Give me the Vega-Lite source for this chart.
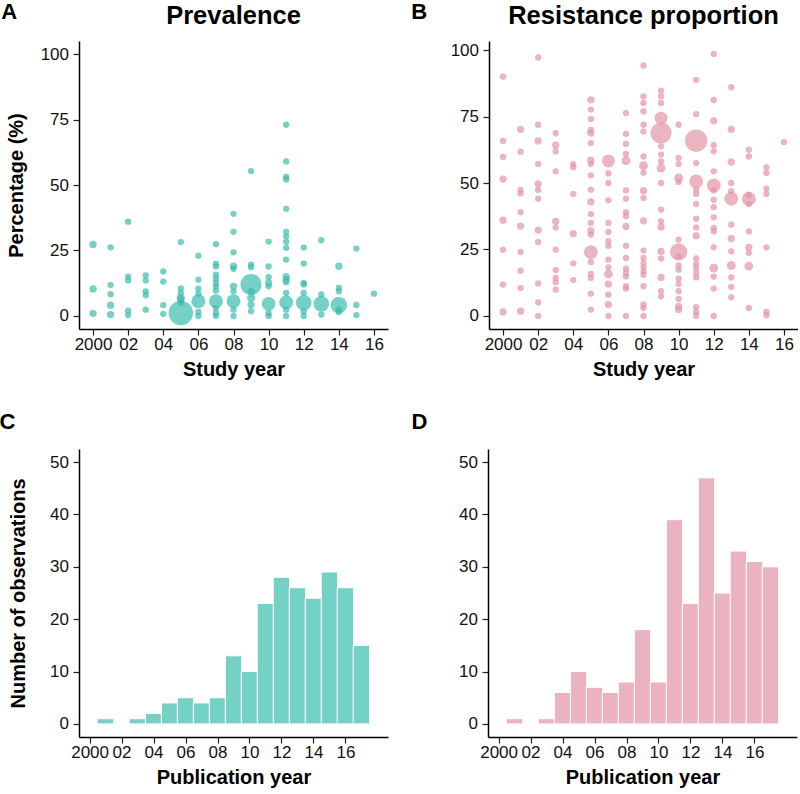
{
  "$schema": "https://vega.github.io/schema/vega-lite/v6.json",
  "padding": {"left": -1, "top": 0, "right": 0, "bottom": 0},
  "background": "white",
  "config": {
    "view": {"stroke": null},
    "font": "Liberation Sans",
    "axis": {
      "grid": false,
      "domainColor": "#000000",
      "domainWidth": 1.5,
      "tickColor": "#222222",
      "tickWidth": 1.2,
      "tickSize": 6,
      "labelFont": "Liberation Sans",
      "labelFontSize": 17,
      "labelColor": "#111111",
      "labelPadding": 4.5,
      "titleFont": "Liberation Sans",
      "titleFontSize": 20,
      "titleFontWeight": "bold",
      "titleColor": "#000000",
      "titlePadding": 7
    },
    "axisX": {"labelPadding": 1.5},
    "title": {
      "font": "Liberation Sans",
      "fontSize": 25.5,
      "fontWeight": "bold",
      "color": "#000000",
      "baseline": "alphabetic",
      "offset": 12
    }
  },
  "datasets": {
    "prev": [
      {"year": 2000, "pct": 27.3, "n": 1.5}, {"year": 2000, "pct": 10.3, "n": 1.5}, {"year": 2000, "pct": 1.0, "n": 1.5},
      {"year": 2001, "pct": 26.2, "n": 1}, {"year": 2001, "pct": 11.8, "n": 1}, {"year": 2001, "pct": 8.3, "n": 1}, {"year": 2001, "pct": 4.1, "n": 1.5}, {"year": 2001, "pct": 0.5, "n": 1.5},
      {"year": 2002, "pct": 36, "n": 1}, {"year": 2002, "pct": 15, "n": 1}, {"year": 2002, "pct": 13.5, "n": 1}, {"year": 2002, "pct": 2, "n": 1}, {"year": 2002, "pct": 0.3, "n": 1},
      {"year": 2003, "pct": 15.5, "n": 1}, {"year": 2003, "pct": 13.5, "n": 1}, {"year": 2003, "pct": 9.4, "n": 1}, {"year": 2003, "pct": 7.9, "n": 1}, {"year": 2003, "pct": 2.4, "n": 1},
      {"year": 2004, "pct": 17, "n": 1}, {"year": 2004, "pct": 13.1, "n": 1}, {"year": 2004, "pct": 4.1, "n": 1}, {"year": 2004, "pct": 0.8, "n": 1},
      {"year": 2005, "pct": 28.2, "n": 1}, {"year": 2005, "pct": 10.5, "n": 1}, {"year": 2005, "pct": 8.8, "n": 1}, {"year": 2005, "pct": 6.9, "n": 2}, {"year": 2005, "pct": 6.2, "n": 1.5}, {"year": 2005, "pct": 5, "n": 1}, {"year": 2005, "pct": 1.1, "n": 23},
      {"year": 2006, "pct": 23, "n": 1}, {"year": 2006, "pct": 13.8, "n": 1}, {"year": 2006, "pct": 10.4, "n": 1}, {"year": 2006, "pct": 8.5, "n": 1}, {"year": 2006, "pct": 5.6, "n": 7}, {"year": 2006, "pct": 1.5, "n": 1}, {"year": 2006, "pct": 0, "n": 1},
      {"year": 2007, "pct": 27.4, "n": 1}, {"year": 2007, "pct": 20, "n": 1}, {"year": 2007, "pct": 18.9, "n": 1}, {"year": 2007, "pct": 15.8, "n": 1}, {"year": 2007, "pct": 14.3, "n": 1}, {"year": 2007, "pct": 12.6, "n": 1}, {"year": 2007, "pct": 11.3, "n": 1}, {"year": 2007, "pct": 9.7, "n": 1}, {"year": 2007, "pct": 5.6, "n": 7}, {"year": 2007, "pct": 3, "n": 1}, {"year": 2007, "pct": 1.1, "n": 1}, {"year": 2007, "pct": 0, "n": 1},
      {"year": 2008, "pct": 39, "n": 1}, {"year": 2008, "pct": 32.1, "n": 1}, {"year": 2008, "pct": 24.3, "n": 1}, {"year": 2008, "pct": 19, "n": 1.5}, {"year": 2008, "pct": 18, "n": 1}, {"year": 2008, "pct": 11.3, "n": 1.5}, {"year": 2008, "pct": 9.4, "n": 1}, {"year": 2008, "pct": 5.6, "n": 7}, {"year": 2008, "pct": 2.4, "n": 1}, {"year": 2008, "pct": 0, "n": 1},
      {"year": 2009, "pct": 55.3, "n": 1}, {"year": 2009, "pct": 19.6, "n": 1}, {"year": 2009, "pct": 18.6, "n": 1}, {"year": 2009, "pct": 12, "n": 17}, {"year": 2009, "pct": 9.4, "n": 1.5}, {"year": 2009, "pct": 6.9, "n": 2}, {"year": 2009, "pct": 4.3, "n": 1.5}, {"year": 2009, "pct": 1.8, "n": 1},
      {"year": 2010, "pct": 28.4, "n": 1}, {"year": 2010, "pct": 18.9, "n": 1}, {"year": 2010, "pct": 14.8, "n": 1}, {"year": 2010, "pct": 12.6, "n": 1.5}, {"year": 2010, "pct": 11.3, "n": 1}, {"year": 2010, "pct": 4.6, "n": 7}, {"year": 2010, "pct": 1.1, "n": 1}, {"year": 2010, "pct": 0, "n": 1},
      {"year": 2011, "pct": 73, "n": 1}, {"year": 2011, "pct": 59, "n": 1}, {"year": 2011, "pct": 53.1, "n": 1}, {"year": 2011, "pct": 52.1, "n": 1}, {"year": 2011, "pct": 40.9, "n": 1}, {"year": 2011, "pct": 32.1, "n": 1}, {"year": 2011, "pct": 30.4, "n": 1}, {"year": 2011, "pct": 28.3, "n": 1}, {"year": 2011, "pct": 26, "n": 1}, {"year": 2011, "pct": 21.5, "n": 1}, {"year": 2011, "pct": 15, "n": 1.5}, {"year": 2011, "pct": 13.8, "n": 1.5}, {"year": 2011, "pct": 12.9, "n": 1}, {"year": 2011, "pct": 8.8, "n": 1}, {"year": 2011, "pct": 5.2, "n": 7}, {"year": 2011, "pct": 2.4, "n": 1}, {"year": 2011, "pct": 0, "n": 1},
      {"year": 2012, "pct": 26.1, "n": 1}, {"year": 2012, "pct": 20, "n": 1}, {"year": 2012, "pct": 12.6, "n": 1}, {"year": 2012, "pct": 12, "n": 1}, {"year": 2012, "pct": 8.8, "n": 1}, {"year": 2012, "pct": 5, "n": 9}, {"year": 2012, "pct": 1.8, "n": 1}, {"year": 2012, "pct": 0, "n": 1},
      {"year": 2013, "pct": 28.9, "n": 1}, {"year": 2013, "pct": 8.2, "n": 1}, {"year": 2013, "pct": 4.6, "n": 9}, {"year": 2013, "pct": 0.5, "n": 1},
      {"year": 2014, "pct": 19, "n": 1.5}, {"year": 2014, "pct": 10.7, "n": 1}, {"year": 2014, "pct": 9.4, "n": 1}, {"year": 2014, "pct": 4.1, "n": 10}, {"year": 2014, "pct": 2.4, "n": 1}, {"year": 2014, "pct": 1.5, "n": 1},
      {"year": 2015, "pct": 25.7, "n": 1}, {"year": 2015, "pct": 4.2, "n": 1}, {"year": 2015, "pct": 0.3, "n": 1},
      {"year": 2016, "pct": 8.5, "n": 1}
    ],
    "res": [
      {"year": 2000, "pct": 90, "n": 1}, {"year": 2000, "pct": 65.8, "n": 1}, {"year": 2000, "pct": 59.8, "n": 1}, {"year": 2000, "pct": 51.5, "n": 1.5}, {"year": 2000, "pct": 36, "n": 1.5}, {"year": 2000, "pct": 24.9, "n": 1}, {"year": 2000, "pct": 11.8, "n": 1}, {"year": 2000, "pct": 1.5, "n": 1.5},
      {"year": 2001, "pct": 70.2, "n": 1.5}, {"year": 2001, "pct": 61.8, "n": 1}, {"year": 2001, "pct": 47.4, "n": 1}, {"year": 2001, "pct": 46.1, "n": 1}, {"year": 2001, "pct": 39, "n": 1}, {"year": 2001, "pct": 33.8, "n": 1.5}, {"year": 2001, "pct": 24.1, "n": 1}, {"year": 2001, "pct": 17, "n": 1}, {"year": 2001, "pct": 10.5, "n": 1}, {"year": 2001, "pct": 1.8, "n": 1.5},
      {"year": 2002, "pct": 97.2, "n": 1}, {"year": 2002, "pct": 71.9, "n": 1}, {"year": 2002, "pct": 65.8, "n": 1.5}, {"year": 2002, "pct": 57.1, "n": 1}, {"year": 2002, "pct": 49.7, "n": 1.5}, {"year": 2002, "pct": 47.4, "n": 1}, {"year": 2002, "pct": 44.1, "n": 1}, {"year": 2002, "pct": 32.3, "n": 1.5}, {"year": 2002, "pct": 27.8, "n": 1}, {"year": 2002, "pct": 12.2, "n": 1}, {"year": 2002, "pct": 5.1, "n": 1}, {"year": 2002, "pct": 0, "n": 1},
      {"year": 2003, "pct": 68.7, "n": 1}, {"year": 2003, "pct": 64.2, "n": 1.5}, {"year": 2003, "pct": 61.9, "n": 1}, {"year": 2003, "pct": 54.4, "n": 1}, {"year": 2003, "pct": 35.6, "n": 1.5}, {"year": 2003, "pct": 33.3, "n": 1}, {"year": 2003, "pct": 24.9, "n": 1}, {"year": 2003, "pct": 17.3, "n": 1}, {"year": 2003, "pct": 14.3, "n": 1}, {"year": 2003, "pct": 12.7, "n": 1}, {"year": 2003, "pct": 9.9, "n": 1},
      {"year": 2004, "pct": 57.1, "n": 1}, {"year": 2004, "pct": 55.9, "n": 1}, {"year": 2004, "pct": 45.9, "n": 1}, {"year": 2004, "pct": 31, "n": 1.5}, {"year": 2004, "pct": 19.8, "n": 1}, {"year": 2004, "pct": 13.5, "n": 1},
      {"year": 2005, "pct": 81.3, "n": 1.5}, {"year": 2005, "pct": 77.6, "n": 1}, {"year": 2005, "pct": 74.1, "n": 1}, {"year": 2005, "pct": 70, "n": 1}, {"year": 2005, "pct": 68.8, "n": 1.5}, {"year": 2005, "pct": 65, "n": 1}, {"year": 2005, "pct": 58.6, "n": 1.5}, {"year": 2005, "pct": 57.1, "n": 1}, {"year": 2005, "pct": 52.9, "n": 1}, {"year": 2005, "pct": 47.5, "n": 1}, {"year": 2005, "pct": 42.9, "n": 1.5}, {"year": 2005, "pct": 38.3, "n": 1}, {"year": 2005, "pct": 35, "n": 1}, {"year": 2005, "pct": 32.1, "n": 1.5}, {"year": 2005, "pct": 30.6, "n": 1}, {"year": 2005, "pct": 24, "n": 7}, {"year": 2005, "pct": 20.3, "n": 1}, {"year": 2005, "pct": 15.8, "n": 1}, {"year": 2005, "pct": 14.3, "n": 1}, {"year": 2005, "pct": 8.4, "n": 1}, {"year": 2005, "pct": 2.4, "n": 1},
      {"year": 2006, "pct": 58.3, "n": 6}, {"year": 2006, "pct": 53.6, "n": 1}, {"year": 2006, "pct": 50, "n": 1}, {"year": 2006, "pct": 43.5, "n": 1}, {"year": 2006, "pct": 35, "n": 1}, {"year": 2006, "pct": 31.6, "n": 1}, {"year": 2006, "pct": 28.1, "n": 1}, {"year": 2006, "pct": 26.4, "n": 1}, {"year": 2006, "pct": 21.2, "n": 1}, {"year": 2006, "pct": 18.3, "n": 1}, {"year": 2006, "pct": 15.8, "n": 2.5}, {"year": 2006, "pct": 12, "n": 1.5}, {"year": 2006, "pct": 8, "n": 1}, {"year": 2006, "pct": 4.3, "n": 1.5}, {"year": 2006, "pct": 0, "n": 1},
      {"year": 2007, "pct": 76.3, "n": 1}, {"year": 2007, "pct": 68.5, "n": 1}, {"year": 2007, "pct": 64.7, "n": 1}, {"year": 2007, "pct": 60.9, "n": 1}, {"year": 2007, "pct": 58.4, "n": 2.5}, {"year": 2007, "pct": 47.2, "n": 1}, {"year": 2007, "pct": 44.1, "n": 1}, {"year": 2007, "pct": 39, "n": 1}, {"year": 2007, "pct": 37.5, "n": 1}, {"year": 2007, "pct": 33.7, "n": 1.5}, {"year": 2007, "pct": 26.4, "n": 1}, {"year": 2007, "pct": 21.8, "n": 1}, {"year": 2007, "pct": 17.8, "n": 1}, {"year": 2007, "pct": 16.2, "n": 1}, {"year": 2007, "pct": 14.8, "n": 1}, {"year": 2007, "pct": 11.2, "n": 1}, {"year": 2007, "pct": 10.3, "n": 1}, {"year": 2007, "pct": 0, "n": 1},
      {"year": 2008, "pct": 94.2, "n": 1}, {"year": 2008, "pct": 82.6, "n": 1}, {"year": 2008, "pct": 80.1, "n": 1}, {"year": 2008, "pct": 76.9, "n": 1}, {"year": 2008, "pct": 71.9, "n": 1}, {"year": 2008, "pct": 69.4, "n": 1}, {"year": 2008, "pct": 60, "n": 1}, {"year": 2008, "pct": 56.5, "n": 2.5}, {"year": 2008, "pct": 53.9, "n": 1}, {"year": 2008, "pct": 47.1, "n": 1.5}, {"year": 2008, "pct": 44.4, "n": 1}, {"year": 2008, "pct": 35.8, "n": 1.5}, {"year": 2008, "pct": 24.6, "n": 1}, {"year": 2008, "pct": 21.8, "n": 1}, {"year": 2008, "pct": 19.9, "n": 1}, {"year": 2008, "pct": 18.3, "n": 1}, {"year": 2008, "pct": 16.8, "n": 1}, {"year": 2008, "pct": 15.5, "n": 1}, {"year": 2008, "pct": 11.2, "n": 1}, {"year": 2008, "pct": 4.3, "n": 1}, {"year": 2008, "pct": 3, "n": 1}, {"year": 2008, "pct": 0, "n": 1},
      {"year": 2009, "pct": 84.7, "n": 1}, {"year": 2009, "pct": 82.6, "n": 1}, {"year": 2009, "pct": 80.1, "n": 1}, {"year": 2009, "pct": 74.4, "n": 6}, {"year": 2009, "pct": 68.8, "n": 17}, {"year": 2009, "pct": 63.8, "n": 1}, {"year": 2009, "pct": 60.7, "n": 1}, {"year": 2009, "pct": 58.1, "n": 1}, {"year": 2009, "pct": 55.6, "n": 2.5}, {"year": 2009, "pct": 50, "n": 1}, {"year": 2009, "pct": 40, "n": 1}, {"year": 2009, "pct": 35.6, "n": 1}, {"year": 2009, "pct": 33.5, "n": 1.5}, {"year": 2009, "pct": 24.3, "n": 1.5}, {"year": 2009, "pct": 21.6, "n": 1}, {"year": 2009, "pct": 14.5, "n": 1.5}, {"year": 2009, "pct": 9.3, "n": 1}, {"year": 2009, "pct": 7.4, "n": 1},
      {"year": 2010, "pct": 71.9, "n": 1}, {"year": 2010, "pct": 59.4, "n": 1}, {"year": 2010, "pct": 57.1, "n": 1}, {"year": 2010, "pct": 51.9, "n": 2.5}, {"year": 2010, "pct": 50.4, "n": 1}, {"year": 2010, "pct": 28.7, "n": 1}, {"year": 2010, "pct": 24.1, "n": 11}, {"year": 2010, "pct": 22.4, "n": 1}, {"year": 2010, "pct": 19, "n": 1}, {"year": 2010, "pct": 17.4, "n": 1}, {"year": 2010, "pct": 14, "n": 1}, {"year": 2010, "pct": 12, "n": 1}, {"year": 2010, "pct": 9.3, "n": 1}, {"year": 2010, "pct": 6.4, "n": 1}, {"year": 2010, "pct": 3.6, "n": 1.5}, {"year": 2010, "pct": 2.4, "n": 1.5},
      {"year": 2011, "pct": 88.8, "n": 1}, {"year": 2011, "pct": 75.9, "n": 1}, {"year": 2011, "pct": 65.9, "n": 19}, {"year": 2011, "pct": 57.5, "n": 1}, {"year": 2011, "pct": 50.6, "n": 7}, {"year": 2011, "pct": 47.5, "n": 1}, {"year": 2011, "pct": 45.9, "n": 1}, {"year": 2011, "pct": 42.1, "n": 1}, {"year": 2011, "pct": 36.6, "n": 1}, {"year": 2011, "pct": 33.3, "n": 1}, {"year": 2011, "pct": 30.2, "n": 1.5}, {"year": 2011, "pct": 21.6, "n": 1}, {"year": 2011, "pct": 19.5, "n": 1}, {"year": 2011, "pct": 18, "n": 1}, {"year": 2011, "pct": 16.2, "n": 1}, {"year": 2011, "pct": 14.5, "n": 1}, {"year": 2011, "pct": 3.3, "n": 1}, {"year": 2011, "pct": 1.5, "n": 1}, {"year": 2011, "pct": 0, "n": 1},
      {"year": 2012, "pct": 98.5, "n": 1}, {"year": 2012, "pct": 81.2, "n": 1}, {"year": 2012, "pct": 73.4, "n": 1.5}, {"year": 2012, "pct": 64.2, "n": 1}, {"year": 2012, "pct": 61.9, "n": 1}, {"year": 2012, "pct": 54.4, "n": 1}, {"year": 2012, "pct": 49.1, "n": 7}, {"year": 2012, "pct": 47.2, "n": 1}, {"year": 2012, "pct": 43.7, "n": 1}, {"year": 2012, "pct": 40.9, "n": 1}, {"year": 2012, "pct": 37.1, "n": 1}, {"year": 2012, "pct": 33.1, "n": 1}, {"year": 2012, "pct": 31.8, "n": 1}, {"year": 2012, "pct": 25.8, "n": 1}, {"year": 2012, "pct": 18, "n": 2.5}, {"year": 2012, "pct": 14.8, "n": 1}, {"year": 2012, "pct": 10.3, "n": 1}, {"year": 2012, "pct": 0, "n": 1},
      {"year": 2013, "pct": 86, "n": 1}, {"year": 2013, "pct": 70.2, "n": 1.5}, {"year": 2013, "pct": 57.9, "n": 1.5}, {"year": 2013, "pct": 50, "n": 1}, {"year": 2013, "pct": 46.9, "n": 1}, {"year": 2013, "pct": 44.1, "n": 7}, {"year": 2013, "pct": 34.3, "n": 1}, {"year": 2013, "pct": 29.1, "n": 1.5}, {"year": 2013, "pct": 24.3, "n": 1}, {"year": 2013, "pct": 19, "n": 2.5}, {"year": 2013, "pct": 14.5, "n": 1}, {"year": 2013, "pct": 10.9, "n": 1}, {"year": 2013, "pct": 7, "n": 1},
      {"year": 2014, "pct": 62.5, "n": 1}, {"year": 2014, "pct": 60, "n": 1}, {"year": 2014, "pct": 45.6, "n": 1}, {"year": 2014, "pct": 44, "n": 7}, {"year": 2014, "pct": 42.1, "n": 1}, {"year": 2014, "pct": 31.8, "n": 1}, {"year": 2014, "pct": 25.8, "n": 1.5}, {"year": 2014, "pct": 23.7, "n": 1}, {"year": 2014, "pct": 18.7, "n": 2.5}, {"year": 2014, "pct": 3, "n": 1},
      {"year": 2015, "pct": 55.9, "n": 1}, {"year": 2015, "pct": 53.8, "n": 1}, {"year": 2015, "pct": 47.9, "n": 1}, {"year": 2015, "pct": 45.9, "n": 1}, {"year": 2015, "pct": 25.8, "n": 1}, {"year": 2015, "pct": 1.5, "n": 1}, {"year": 2015, "pct": 0.3, "n": 1},
      {"year": 2016, "pct": 65.4, "n": 1}
    ],
    "pubC": [
      {"year": 2001, "count": 1}, {"year": 2002, "count": 0}, {"year": 2003, "count": 1}, {"year": 2004, "count": 2}, {"year": 2005, "count": 4}, {"year": 2006, "count": 5}, {"year": 2007, "count": 4}, {"year": 2008, "count": 5}, {"year": 2009, "count": 13}, {"year": 2010, "count": 10}, {"year": 2011, "count": 23}, {"year": 2012, "count": 28}, {"year": 2013, "count": 26}, {"year": 2014, "count": 24}, {"year": 2015, "count": 29}, {"year": 2016, "count": 26}, {"year": 2017, "count": 15}
    ],
    "pubD": [
      {"year": 2001, "count": 1}, {"year": 2002, "count": 0}, {"year": 2003, "count": 1}, {"year": 2004, "count": 6}, {"year": 2005, "count": 10}, {"year": 2006, "count": 7}, {"year": 2007, "count": 6}, {"year": 2008, "count": 8}, {"year": 2009, "count": 18}, {"year": 2010, "count": 8}, {"year": 2011, "count": 39}, {"year": 2012, "count": 23}, {"year": 2013, "count": 47}, {"year": 2014, "count": 25}, {"year": 2015, "count": 33}, {"year": 2016, "count": 31}, {"year": 2017, "count": 30}
    ]
  },
  "spacing": 31,
  "vconcat": [
    {
      "hconcat": [
        {
          "title": {"text": "A", "anchor": "start", "frame": "bounds", "fontSize": 22, "offset": -20, "dx": -5},
          "vconcat": [
            {
              "title": {"text": "Prevalence"},
              "width": 309,
              "height": 288,
              "data": {"name": "prev"},
              "mark": {"type": "circle", "color": "#3BBCAD", "opacity": 0.7},
              "encoding": {
                "x": {"field": "year", "type": "quantitative", "scale": {"domain": [1999.2, 2016.8], "nice": false, "zero": false}, "axis": {"values": [2000, 2002, 2004, 2006, 2008, 2010, 2012, 2014, 2016], "labelExpr": "datum.value == 2000 ? '2000' : substring(toString(datum.value), 2)", "title": "Study year"}},
                "y": {"field": "pct", "type": "quantitative", "scale": {"domain": [-5, 105], "nice": false, "zero": false}, "axis": {"values": [0, 25, 50, 75, 100], "title": "Percentage (%)", "titlePadding": 14}},
                "size": {"field": "n", "type": "quantitative", "scale": {"domain": [1, 23], "range": [40, 600]}, "legend": null}
              }
            }
          ]
        },
        {
          "title": {"text": "B", "anchor": "start", "frame": "bounds", "fontSize": 22, "offset": -20, "dx": -39},
          "vconcat": [
            {
              "title": {"text": "Resistance proportion"},
              "width": 309,
              "height": 288,
              "data": {"name": "res"},
              "mark": {"type": "circle", "color": "#E294A5", "opacity": 0.7},
              "encoding": {
                "x": {"field": "year", "type": "quantitative", "scale": {"domain": [1999.2, 2016.8], "nice": false, "zero": false}, "axis": {"values": [2000, 2002, 2004, 2006, 2008, 2010, 2012, 2014, 2016], "labelExpr": "datum.value == 2000 ? '2000' : substring(toString(datum.value), 2)", "title": "Study year"}},
                "y": {"field": "pct", "type": "quantitative", "scale": {"domain": [-4.9, 103.4], "nice": false, "zero": false}, "axis": {"values": [0, 25, 50, 75, 100], "title": null}},
                "size": {"field": "n", "type": "quantitative", "scale": {"domain": [1, 23], "range": [40, 600]}, "legend": null}
              }
            }
          ]
        }
      ],
      "spacing": 23
    },
    {
      "hconcat": [
        {
          "title": {"text": "C", "anchor": "start", "frame": "bounds", "fontSize": 22, "offset": 15, "dx": -9},
          "vconcat": [
            {
              "width": 309,
              "height": 288,
              "data": {"name": "pubC"},
              "mark": {"type": "bar", "width": 16.46, "color": "#75D0C5", "stroke": "white", "strokeWidth": 1},
              "encoding": {
                "x": {"field": "year", "type": "quantitative", "scale": {"domain": [1999.65, 2018.35], "nice": false, "zero": false}, "axis": {"values": [2000, 2002, 2004, 2006, 2008, 2010, 2012, 2014, 2016], "labelExpr": "datum.value == 2000 ? '2000' : substring(toString(datum.value), 2)", "title": "Publication year"}},
                "y": {"field": "count", "type": "quantitative", "scale": {"domain": [-2.5, 52.5], "nice": false}, "axis": {"values": [0, 10, 20, 30, 40, 50], "title": "Number of observations", "titlePadding": 21}}
              }
            }
          ]
        },
        {
          "title": {"text": "D", "anchor": "start", "frame": "bounds", "fontSize": 22, "offset": 15, "dx": -47},
          "vconcat": [
            {
              "width": 309,
              "height": 288,
              "data": {"name": "pubD"},
              "mark": {"type": "bar", "width": 16.46, "color": "#EBB3BF", "stroke": "white", "strokeWidth": 1},
              "encoding": {
                "x": {"field": "year", "type": "quantitative", "scale": {"domain": [1999.65, 2018.35], "nice": false, "zero": false}, "axis": {"values": [2000, 2002, 2004, 2006, 2008, 2010, 2012, 2014, 2016], "labelExpr": "datum.value == 2000 ? '2000' : substring(toString(datum.value), 2)", "title": "Publication year"}},
                "y": {"field": "count", "type": "quantitative", "scale": {"domain": [-2.5, 52.5], "nice": false}, "axis": {"values": [0, 10, 20, 30, 40, 50], "title": null}}
              }
            }
          ]
        }
      ],
      "spacing": 23
    }
  ]
}
